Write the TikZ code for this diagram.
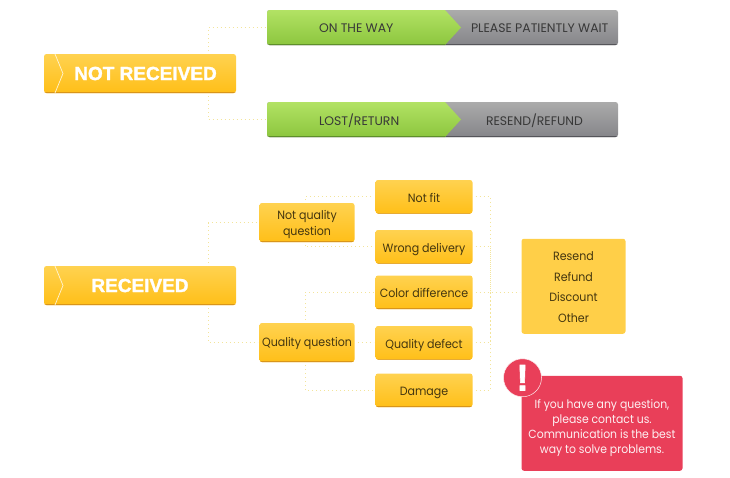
\documentclass[tikz,border=0pt]{standalone}
\usepackage{fontspec}
\setmainfont{Poppins}
\newfontfamily\headfont[BoldFeatures={FakeBold=1.6}]{Liberation Sans}
\newfontfamily\boxfont[FakeStretch=0.92]{Poppins}
\usetikzlibrary{positioning}
\definecolor{ambertop}{HTML}{FFD250}
\definecolor{amberbot}{HTML}{FFBF18}
\definecolor{amberedge}{HTML}{D9951A}
\definecolor{greentop}{HTML}{B2E264}
\definecolor{greenbot}{HTML}{8CC63E}
\definecolor{greenedge}{HTML}{5E8F2A}
\definecolor{greytop}{HTML}{ABABAB}
\definecolor{greybot}{HTML}{858589}
\definecolor{greyedge}{HTML}{55555A}
\definecolor{dotline}{HTML}{F3E49A}
\definecolor{inkdark}{HTML}{44360F}
\definecolor{alertred}{HTML}{E93F59}

\begin{document}
\begin{tikzpicture}[
    x=1pt, y=-1pt,
    every node/.style={outer sep=0pt},
    edged/.style={path picture={\draw[line width=1.6pt, #1] (path picture bounding box.south west) -- (path picture bounding box.south east);}},
    ambox/.style={rounded corners=2.5pt, inner sep=0pt, align=center, top color=ambertop, bottom color=amberbot, edged=amberedge, text=inkdark, font=\boxfont\fontsize{12}{16}\selectfont},
    bigbox/.style={ambox, minimum width=192pt, minimum height=39pt, text=white, font=\headfont\bfseries\fontsize{19}{22}\selectfont},
    midbox/.style={ambox, minimum width=95pt, minimum height=39pt},
    leafbox/.style={ambox, minimum width=97pt, minimum height=33.5pt, text height=11pt, text depth=0.5pt},
    barbox/.style={rounded corners=2.5pt, inner sep=0pt, minimum width=351pt, minimum height=35pt, top color=greytop, bottom color=greybot, edged=greyedge},
    bartext/.style={inner sep=0pt, yshift=-1pt, text=black!78, font=\fontsize{12.4}{14}\selectfont},
    conn/.style={draw=dotline, line width=1pt, dash pattern=on 1.2pt off 2.8pt, shorten <=3pt, shorten >=2pt}
]
\useasboundingbox (0,0) rectangle (730,477);

% left column
\node[bigbox] (notrec) at (140,73.5) {\hspace{11pt}NOT RECEIVED};
\node[bigbox, below=173pt of notrec] (rec) {RECEIVED};
\foreach \big in {notrec,rec}
    \draw[white!75!ambertop, line width=0.7pt] ([xshift=11pt]\big.north west) -- ([xshift=19pt]\big.west) -- ([xshift=11pt]\big.south west);

% bars
\node[barbox, right=31pt of notrec.east, yshift=46pt] (waybar) {};
\node[barbox, below=57pt of waybar] (lostbar) {};
\foreach \bar in {waybar,lostbar} {
    \path[top color=greentop, bottom color=greenbot, rounded corners=2.5pt] (\bar.west) -- (\bar.north west)
        [sharp corners] -- ([xshift=178pt]\bar.north west) -- ([xshift=194pt]\bar.west) -- ([xshift=178pt]\bar.south west)
        [rounded corners=2.5pt] -- (\bar.south west) -- cycle;
    \draw[greenedge, line width=0.8pt] ([xshift=2pt,yshift=0.4pt]\bar.south west) -- ([xshift=178pt,yshift=0.4pt]\bar.south west);
}
\node[bartext, right=52pt of waybar.west] (way) {ON THE WAY};
\node[bartext, right=204pt of waybar.west] (wait) {PLEASE PATIENTLY WAIT};
\node[bartext, right=52pt of lostbar.west] (lost) {LOST/RETURN};
\node[bartext, right=219pt of lostbar.west] (resend) {RESEND/REFUND};

% received tree
\node[midbox, right=23.5pt of rec.east, yshift=63pt] (noqual) {\rule{0pt}{13pt}Not quality\\question};
\node[midbox, below=81pt of noqual] (qual) {\rule{0pt}{11pt}Quality question};
\node[leafbox, right=21pt of noqual.east, yshift=25.75pt] (notfit) {Not fit};
\node[leafbox, below=16.5pt of notfit] (wrong) {Wrong delivery};
\node[leafbox, below=12pt of wrong] (color) {Color difference};
\node[leafbox, below=17pt of color] (defect) {Quality defect};
\node[leafbox, below=14pt of defect] (damage) {Damage};
\node[right=49pt of color.east, yshift=6pt, rounded corners=2.5pt, fill=ambertop!85!amberbot, minimum width=104pt, minimum height=95pt, inner sep=0pt, align=center, text=inkdark, font=\boxfont\fontsize{12}{20.5}\selectfont] (remedy) {\rule{0pt}{11pt}Resend\\Refund\\Discount\\Other};

% note
\node[below right=42pt and 0pt of remedy.south west, rounded corners=2.5pt, fill=alertred, minimum width=161pt, minimum height=95pt, inner sep=0pt, align=center, text=white!92!alertred, font=\boxfont\fontsize{11.8}{15}\selectfont] (note) {\rule{0pt}{18pt}If you have any question,\\please contact us.\\Communication is the best\\way to solve problems.};
\node[circle, fill=alertred, draw=white!90!alertred, line width=0.5pt, minimum size=38pt, inner sep=0pt, text=white, font=\headfont\bfseries\fontsize{37}{37}\selectfont] (alert) at ([xshift=1pt,yshift=-2pt]note.north west) {!};

% connectors
\draw[conn] ([xshift=68pt]notrec.north) |- (waybar.west);
\draw[conn] ([xshift=68pt]notrec.south) |- (lostbar.west);
\draw[conn] ([xshift=68pt]rec.north) |- (noqual.west);
\draw[conn] ([xshift=68pt]rec.south) |- (qual.west);
\draw[conn] ([xshift=-2pt]noqual.north) |- (notfit.west);
\draw[conn] ([xshift=-2pt]noqual.south) |- (wrong.west);
\draw[conn] ([xshift=-2pt]qual.north) |- (color.west);
\draw[conn] (qual.east) -- (qual.east -| defect.west);
\draw[conn] ([xshift=-2pt]qual.south) |- (damage.west);
\coordinate[right=18pt of color.east] (bus);
\foreach \leaf in {notfit,wrong,defect,damage}
    \draw[conn, shorten >=0pt] (\leaf.east) -| (bus);
\draw[conn] (color.east) -- (color.east -| remedy.west);
\end{tikzpicture}
\end{document}
